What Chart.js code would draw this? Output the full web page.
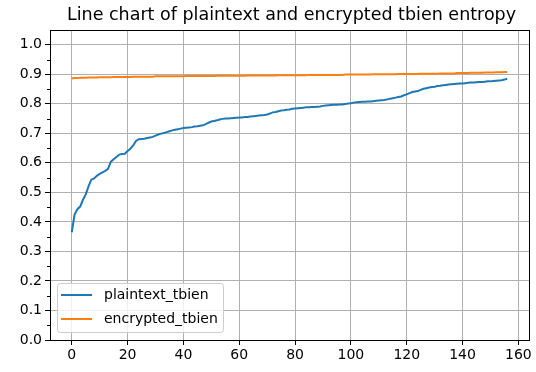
<!DOCTYPE html>
<html>
<head>
<meta charset="utf-8">
<script src="https://cdn.jsdelivr.net/npm/chart.js@4/dist/chart.umd.min.js"></script>
<style>
  html, body { margin: 0; padding: 0; background: #fff; }
  #wrap { width: 536px; height: 372px; }
</style>
</head>
<body>
<div id="wrap"><canvas id="chart" width="536" height="372"></canvas></div>
<script>
const TITLE = 'Line chart of plaintext and encrypted tbien entropy';
const seriesNames = ['plaintext_tbien', 'encrypted_tbien'];
const seriesColors = ['#1f77b4', '#ff7f0e'];

// sorted entropy values per sample
const plaintextTbien = [
  0.365, 0.425, 0.443, 0.452, 0.475, 0.493, 0.520, 0.543, 0.547, 0.556,
  0.563, 0.568, 0.573, 0.580, 0.604, 0.612, 0.620, 0.628, 0.630, 0.631,
  0.640, 0.648, 0.659, 0.674, 0.680, 0.681, 0.682, 0.684, 0.686, 0.688,
  0.692, 0.696, 0.699, 0.701, 0.704, 0.707, 0.710, 0.712, 0.714, 0.716,
  0.718, 0.719, 0.720, 0.721, 0.723, 0.724, 0.726, 0.727, 0.731, 0.736,
  0.740, 0.742, 0.744, 0.747, 0.749, 0.750, 0.750, 0.751, 0.752, 0.753,
  0.754, 0.754, 0.755, 0.755, 0.757, 0.758, 0.759, 0.760, 0.761, 0.762,
  0.764, 0.767, 0.771, 0.772, 0.775, 0.777, 0.778, 0.780, 0.781, 0.783,
  0.784, 0.785, 0.786, 0.787, 0.788, 0.788, 0.789, 0.789, 0.790, 0.791,
  0.793, 0.794, 0.795, 0.796, 0.797, 0.797, 0.798, 0.798, 0.799, 0.801,
  0.802, 0.804, 0.805, 0.806, 0.807, 0.807, 0.808, 0.808, 0.809, 0.810,
  0.811, 0.812, 0.813, 0.815, 0.817, 0.819, 0.821, 0.823, 0.825, 0.829,
  0.832, 0.836, 0.840, 0.842, 0.843, 0.847, 0.851, 0.853, 0.855, 0.857,
  0.858, 0.860, 0.861, 0.863, 0.864, 0.865, 0.866, 0.867, 0.868, 0.869,
  0.869, 0.870, 0.871, 0.872, 0.872, 0.873, 0.874, 0.874, 0.875, 0.876,
  0.876, 0.877, 0.878, 0.879, 0.880, 0.882, 0.885
];

const encryptedTbien = [
  0.886, 0.887, 0.887, 0.888, 0.888, 0.888, 0.889, 0.889, 0.889, 0.889,
  0.890, 0.890, 0.890, 0.890, 0.890, 0.891, 0.891, 0.891, 0.891, 0.891,
  0.891, 0.891, 0.892, 0.892, 0.892, 0.892, 0.892, 0.892, 0.892, 0.892,
  0.893, 0.893, 0.893, 0.893, 0.893, 0.893, 0.893, 0.893, 0.893, 0.893,
  0.893, 0.894, 0.894, 0.894, 0.894, 0.894, 0.894, 0.894, 0.894, 0.894,
  0.894, 0.894, 0.895, 0.895, 0.895, 0.895, 0.895, 0.895, 0.895, 0.895,
  0.895, 0.895, 0.895, 0.896, 0.896, 0.896, 0.896, 0.896, 0.896, 0.896,
  0.896, 0.896, 0.896, 0.896, 0.897, 0.897, 0.897, 0.897, 0.897, 0.897,
  0.897, 0.897, 0.897, 0.897, 0.897, 0.898, 0.898, 0.898, 0.898, 0.898,
  0.898, 0.898, 0.898, 0.898, 0.898, 0.898, 0.898, 0.898, 0.899, 0.899,
  0.899, 0.899, 0.899, 0.899, 0.899, 0.899, 0.899, 0.899, 0.900, 0.900,
  0.900, 0.900, 0.900, 0.900, 0.900, 0.900, 0.900, 0.901, 0.901, 0.901,
  0.901, 0.901, 0.901, 0.901, 0.901, 0.902, 0.902, 0.902, 0.902, 0.902,
  0.902, 0.902, 0.903, 0.903, 0.903, 0.903, 0.903, 0.903, 0.904, 0.904,
  0.904, 0.904, 0.904, 0.905, 0.905, 0.905, 0.905, 0.905, 0.906, 0.906,
  0.906, 0.906, 0.907, 0.907, 0.907, 0.908, 0.908
];

const xTicks = [0, 20, 40, 60, 80, 100, 120, 140, 160];
const yTicks = [0.0, 0.1, 0.2, 0.3, 0.4, 0.5, 0.6, 0.7, 0.8, 0.9, 1.0];
const yMinorTicks = [0.05, 0.15, 0.25, 0.35, 0.45, 0.55, 0.65, 0.75, 0.85, 0.95];

const FONT = 'DejaVu Sans';
const TICK_SIZE = 14;
const TITLE_SIZE = 17.5;

const toPoints = arr => arr.map((v, i) => ({ x: i, y: v }));

// title over the plot area, frame, minor ticks and the inset legend
const axesDecor = {
  id: 'axesDecor',
  afterDraw(chart) {
    const { ctx, chartArea: a, scales } = chart;
    ctx.save();

    ctx.fillStyle = '#000';
    ctx.font = TITLE_SIZE + 'px "' + FONT + '"';
    ctx.textAlign = 'center';
    ctx.textBaseline = 'middle';
    ctx.fillText(TITLE, (a.left + a.right) / 2 + 2, 15);

    // minor ticks on the y axis
    ctx.strokeStyle = '#000';
    ctx.lineWidth = 1;
    yMinorTicks.forEach(v => {
      const y = Math.round(scales.y.getPixelForValue(v)) + 0.5;
      ctx.beginPath();
      ctx.moveTo(a.left - 3, y);
      ctx.lineTo(a.left, y);
      ctx.stroke();
    });
    // spines
    ctx.strokeRect(Math.round(a.left) + 0.5, Math.round(a.top) + 0.5,
                   Math.round(a.right - a.left), Math.round(a.bottom - a.top));

    // legend box in the lower left corner
    const bx = a.left + 7, by = a.bottom - 57, bw = 166, bh = 49;
    ctx.beginPath();
    if (ctx.roundRect) ctx.roundRect(bx + 0.5, by + 0.5, bw, bh, 3);
    else ctx.rect(bx + 0.5, by + 0.5, bw, bh);
    ctx.fillStyle = 'rgba(255,255,255,0.8)';
    ctx.fill();
    ctx.strokeStyle = '#cccccc';
    ctx.stroke();
    ctx.font = TICK_SIZE + 'px "' + FONT + '"';
    ctx.textBaseline = 'middle';
    ctx.textAlign = 'left';
    chart.data.datasets.forEach((ds, i) => {
      const y = by + 12 + i * 24;
      ctx.strokeStyle = ds.borderColor;
      ctx.lineWidth = 2;
      ctx.beginPath();
      ctx.moveTo(bx + 4, y);
      ctx.lineTo(bx + 35, y);
      ctx.stroke();
      ctx.fillStyle = '#000';
      ctx.fillText(ds.label, bx + 47, y);
    });
    ctx.restore();
  }
};

new Chart(document.getElementById('chart'), {
  type: 'line',
  data: {
    datasets: [
      { label: seriesNames[0], data: toPoints(plaintextTbien), borderColor: seriesColors[0],
        backgroundColor: seriesColors[0], borderWidth: 2, pointRadius: 0, tension: 0, fill: false },
      { label: seriesNames[1], data: toPoints(encryptedTbien), borderColor: seriesColors[1],
        backgroundColor: seriesColors[1], borderWidth: 2, pointRadius: 0, tension: 0, fill: false }
    ]
  },
  options: {
    responsive: false,
    animation: false,
    devicePixelRatio: 1,
    layout: { padding: { left: 0, right: 7, top: 30, bottom: 0 } },
    plugins: {
      legend: { display: false },
      tooltip: { enabled: false },
      title: { display: false }
    },
    scales: {
      x: {
        type: 'linear', min: -7.8, max: 163.8,
        afterBuildTicks: s => { s.ticks = xTicks.map(v => ({ value: v })); },
        afterFit: s => { s.height = 32; },
        grid: { color: '#b0b0b0', lineWidth: 1, tickLength: 5, tickColor: '#000' },
        border: { color: '#000', width: 1 },
        ticks: { color: '#000', font: { family: FONT, size: TICK_SIZE }, padding: 2,
                 maxRotation: 0, autoSkip: false, callback: v => String(v) }
      },
      y: {
        min: 0, max: 1.05,
        afterBuildTicks: s => { s.ticks = yTicks.map(v => ({ value: v })); },
        afterFit: s => { s.width = 50; },
        grid: { color: '#b0b0b0', lineWidth: 1, tickLength: 5, tickColor: '#000' },
        border: { color: '#000', width: 1 },
        ticks: { color: '#000', font: { family: FONT, size: TICK_SIZE }, padding: 3,
                 autoSkip: false, callback: v => v.toFixed(1) }
      }
    }
  },
  plugins: [axesDecor]
});
</script>
</body>
</html>
